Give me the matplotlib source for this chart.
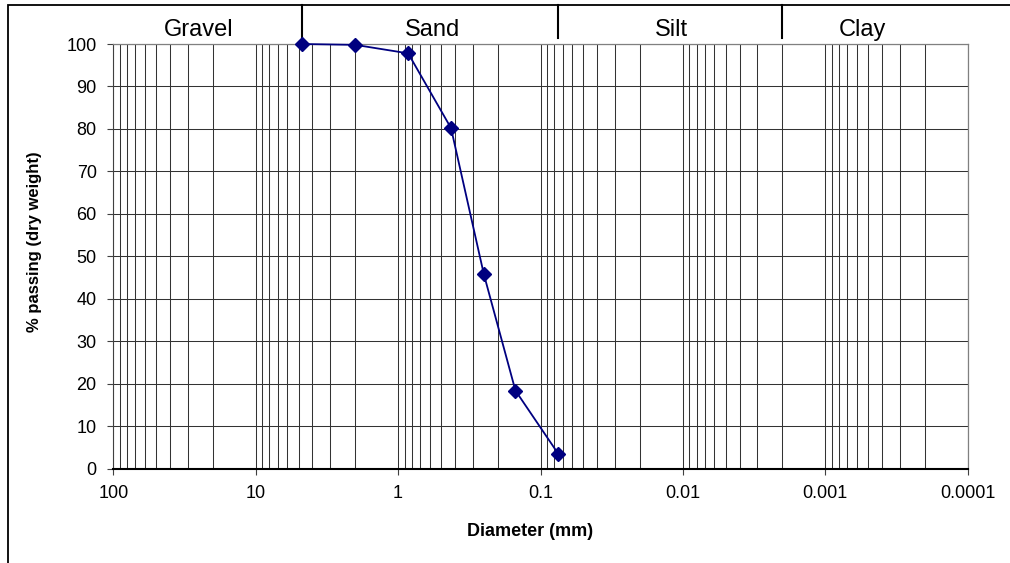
import numpy as np
import matplotlib
matplotlib.use('Agg')
import matplotlib.pyplot as plt
from matplotlib.patches import Rectangle

plt.rcParams['font.family'] = ['Liberation Sans', 'DejaVu Sans']

# sieve data
diameter = [4.75, 2.0, 0.85, 0.425, 0.25, 0.15, 0.075]
passing = [100.0, 99.8, 97.8, 80.2, 45.8, 18.4, 3.5]

# soil classes across the top
band_names = ['Gravel', 'Sand', 'Silt', 'Clay']
band_edges = [4.75, 0.075, 0.002]
band_text_x = [25, 0.57, 0.012, 0.00055]

xtick_vals = [100, 10, 1, 0.1, 0.01, 0.001, 0.0001]
xtick_labels = ['100', '10', '1', '0.1', '0.01', '0.001', '0.0001']
ytick_vals = list(range(0, 101, 10))

W, H = 1010, 563
fig = plt.figure(figsize=(W / 100, H / 100), dpi=100)
left, right, top, bottom = 113.3, 967.7, 44.0, 468.7
ax = fig.add_axes([left / W, 1 - bottom / H, (right - left) / W, (bottom - top) / H])

ax.set_xscale('log')
ax.set_xlim(100, 0.0001)
ax.set_ylim(0, 100)

# grid
grid_c = '#333333'
minor = [m * 10.0 ** e for e in range(-4, 2) for m in range(2, 10)]
for v in minor:
    ax.axvline(v, color=grid_c, lw=0.75, zorder=1)
for v in xtick_vals:
    ax.axvline(v, color=grid_c, lw=0.75, zorder=1)
for v in ytick_vals[1:]:
    ax.axhline(v, color=grid_c, lw=0.75, zorder=1)

ax.plot(diameter, passing, color='#000080', lw=1.3, marker='D', ms=7.5,
        mfc='#000080', mec='#000080', zorder=3, clip_on=False)

ax.set_xticks(xtick_vals)
ax.set_xticklabels(xtick_labels)
ax.xaxis.set_minor_locator(matplotlib.ticker.NullLocator())
ax.set_yticks(ytick_vals)
ax.tick_params(axis='both', labelsize=13, direction='out', length=4, width=0.8,
               color='#404040', pad=8)

for s in ['top', 'right']:
    ax.spines[s].set_color('#808080')
    ax.spines[s].set_linewidth(0.9)
ax.spines['left'].set_color('#404040')
ax.spines['left'].set_linewidth(0.8)
ax.spines['bottom'].set_color('black')
ax.spines['bottom'].set_linewidth(1.5)

# class band above the plot
tr = ax.get_xaxis_transform()
ax_h = bottom - top
y_lo = (bottom - 38.3) / ax_h
y_hi = (bottom - 5.0) / ax_h
for e in band_edges:
    ax.plot([e, e], [y_lo, y_hi], color='black', lw=1.5, transform=tr, clip_on=False)
for name, xt in zip(band_names, band_text_x):
    ax.text(xt, (bottom - 36.0) / ax_h, name, transform=tr, ha='center',
            va='baseline', fontsize=17)

fig.text(530.5 / W, 1 - 532 / H, 'Diameter (mm)', ha='center', va='center',
         fontsize=13, fontweight='bold')
fig.text(35 / W, 1 - 242 / H, '% passing (dry weight)', ha='center', va='center',
         rotation=90, fontsize=12, fontweight='bold')

# chart area border (runs off right and bottom)
fig.patches.append(Rectangle((8 / W, -0.1), 1.2, 1.1 - 5 / H, transform=fig.transFigure,
                             fill=False, edgecolor='black', lw=1.3))

fig.savefig('out.png', dpi=100)
